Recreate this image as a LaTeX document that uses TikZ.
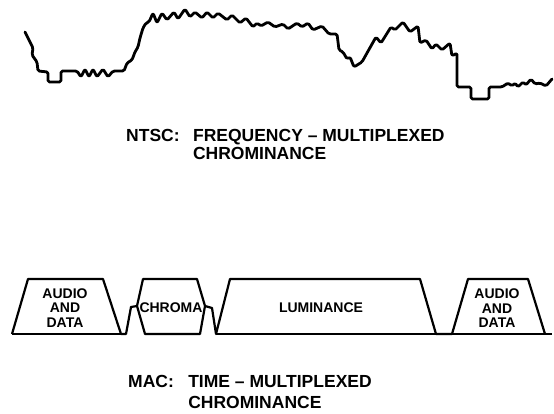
\documentclass[tikz,border=0pt]{standalone}
\usepackage{fontspec}
\setmainfont{Liberation Sans}
\usetikzlibrary{positioning}
\begin{document}
\begin{tikzpicture}[
  x=1pt, y=-1pt,
  trace/.style={line width=2.8pt, line join=round, line cap=round, rounded corners=1.5pt},
  pulse/.style={line width=2.2pt, line join=round},
  slot/.style={font=\bfseries\fontsize{14}{14.5}\selectfont, align=center, inner sep=0pt},
  caption/.style={font=\bfseries\fontsize{17.5}{18}\selectfont, align=left, inner sep=0pt, anchor=north west}
]
  \useasboundingbox (0,0) rectangle (554,414);
  % composite signal
  \draw[trace] (25,32) -- (30,42) -- (33,48) -- (32,55) -- (37,62) -- (38,71) -- (48,72) -- (48,82) -- (61,82) -- (61,71) -- (77,71)
    -- (81,77) -- (85,69) -- (89,77) -- (93,69) -- (97,77) -- (103,69) -- (108,77) -- (113,71) -- (124,71)
    -- (127,63) -- (132,60) -- (135,52) -- (138,47) -- (140,38) -- (143,28) -- (146,23) -- (149,22)
    -- (153,13) -- (157,23) -- (162,13) -- (167,20) -- (174,12) -- (178,19) -- (185,9) -- (190,17) -- (195,12)
    -- (202,18) -- (207,12) -- (213,18) -- (218,13) -- (227,20) -- (232,15) -- (240,23) -- (246,18) -- (253,27)
    -- (257,23) -- (261,26) -- (268,22) -- (275,27) -- (283,24) -- (288,29) -- (297,23) -- (302,27) -- (308,23)
    -- (313,30) -- (322,26) -- (329,34) -- (337,34) -- (339,50) -- (343,52) -- (347,59) -- (350,57) -- (354,67)
    -- (362,62) -- (367,53) -- (376,37) -- (381,43) -- (391,27) -- (395,30) -- (403,22) -- (410,32) -- (418,26)
    -- (420,43) -- (426,40) -- (432,49) -- (436,44) -- (442,50) -- (450,43) -- (452,56) -- (457,53) -- (457,87)
    -- (471,87) -- (471,99) -- (489,99) -- (489,87) -- (502,87) -- (508,83) -- (512,86) -- (515,83) -- (518,87)
    -- (523,82) -- (526,85) -- (531,79) -- (535,84) -- (540,83) -- (546,86) -- (552,79);
  \node[caption] (ntsc) at (126,129) {NTSC:};
  \node[caption, right=13pt of ntsc.north east, anchor=north west] (ntsctext) {FREQUENCY – MULTIPLEXED\\CHROMINANCE};
  % time slots
  \draw[pulse] (12,334) -- (28,279) -- (103,279) -- (121,334) -- (126,334) -- (131,307) -- (137,306) -- (143,279)
    -- (197,279) -- (205,306) -- (212,308) -- (216,334) -- (230,279) -- (420,279) -- (436,334) -- (452,334)
    -- (468,279) -- (528,279) -- (545,334);
  \draw[pulse] (137,306) -- (145,334) -- (200,334) -- (205,306);
  \draw[pulse] (12,334) -- (126,334) (216,334) -- (552,334);
  \node[slot] (audio1) at (65,308) {AUDIO\\AND\\DATA};
  \node[slot] (chroma) at (171,308) {CHROMA};
  \node[slot] (luma) at (321,308) {LUMINANCE};
  \node[slot] (audio2) at (497,308.5) {AUDIO\\AND\\DATA};
  \node[caption] (mac) at (128,375.5) {MAC:};
  \node[caption, right=14pt of mac.north east, anchor=north west] (mactext) {TIME – MULTIPLEXED\\[3pt]CHROMINANCE};
\end{tikzpicture}
\end{document}
